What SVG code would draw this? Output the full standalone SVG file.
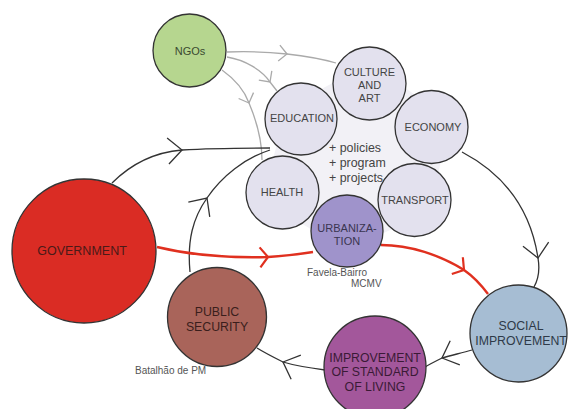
<svg xmlns="http://www.w3.org/2000/svg" width="568" height="409" viewBox="0 0 568 409">
<style>
.node{stroke:#333;stroke-width:1.3}
.lbl{font-family:"Liberation Sans",Arial,sans-serif;font-size:11px;fill:#444;text-anchor:middle}
.big{font-size:12.3px;fill:#3a2a2a}
.note{font-family:"Liberation Sans",Arial,sans-serif;font-size:10px;fill:#555}
.plus{font-family:"Liberation Sans",Arial,sans-serif;font-size:12.4px;fill:#444}
.blk{fill:none;stroke:#333;stroke-width:1.3;marker-mid:url(#chev)}
.gry{fill:none;stroke:#aaa;stroke-width:1.3;marker-mid:url(#chevg)}
.red{fill:none;stroke:#e0301f;stroke-width:2.4;marker-mid:url(#chevr)}
</style>
<defs>
<marker id="chev" viewBox="-20 -20 40 40" markerWidth="40" markerHeight="40" refX="0" refY="0" orient="auto" markerUnits="userSpaceOnUse"><path d="M-14,-13 L0,0 L-14,13" fill="none" stroke="#333" stroke-width="1.3"/></marker>
<marker id="chevg" viewBox="-20 -20 40 40" markerWidth="40" markerHeight="40" refX="0" refY="0" orient="auto" markerUnits="userSpaceOnUse"><path d="M-8,-8 L0,0 L-8,8" fill="none" stroke="#aaa" stroke-width="1.3"/></marker>
<marker id="chevr" viewBox="-20 -20 40 40" markerWidth="40" markerHeight="40" refX="0" refY="0" orient="auto" markerUnits="userSpaceOnUse"><path d="M-8,-10 L0,0 L-8,10" fill="none" stroke="#e0301f" stroke-width="2.2"/></marker>
</defs>
<rect width="568" height="409" fill="#fff"/>
<polygon id="cluster-bg" points="301,119 369,83 431,127 415,200 347,231 282,192" fill="#f2f1f6" stroke="#f2f1f6" stroke-width="34" stroke-linejoin="round"/>
<g id="connectors">
<path class="gry" d="M227,52 C250,51 268,52 287,54 C305,56 322,59 336,63"/>
<path class="gry" d="M227,57 C245,60 262,70 270,82 L277,91"/>
<path class="gry" d="M222,70 C236,80 245,92 249,103 C257,122 262,140 262,160"/>
<path class="blk" d="M112,183 C135,160 158,152 182,150 C215,148 245,148 270,148"/>
<path class="blk" d="M190,272 C187,240 193,218 207,198 C222,176 245,158 270,150"/>
<path class="blk" d="M462,152 C500,172 530,205 538,258 C540,270 538,280 534,287"/>
<path class="red" d="M157,247 C190,255 230,258 268,257 C285,256 300,254 313,252"/>
<path class="red" d="M381,245 C410,245 440,255 464,270 C474,277 482,286 488,294"/>
<path class="blk" d="M472,350 C462,353 452,355 442,358 C436,361 430,364 425,367"/>
<path class="blk" d="M325,370 C310,368 296,366 283,362 C273,357 265,353 257,348"/>
</g>
<g id="ngos"><circle class="node" cx="189.5" cy="50.5" r="36.5" fill="#b6d68f"/><text class="lbl" x="190" y="55" style="fill:#3a4a30">NGOs</text></g>
<g id="education"><circle class="node" cx="301" cy="119" r="36" fill="#e3e1ee"/><text class="lbl" x="302" y="122">EDUCATION</text></g>
<g id="culture"><circle class="node" cx="369.5" cy="83.5" r="36.5" fill="#e3e1ee"/><text class="lbl" x="369.5" y="76">CULTURE</text><text class="lbl" x="369.5" y="89">AND</text><text class="lbl" x="369.5" y="102">ART</text></g>
<g id="economy"><circle class="node" cx="431.5" cy="127" r="36.5" fill="#e3e1ee"/><text class="lbl" x="433" y="131">ECONOMY</text></g>
<g id="health"><circle class="node" cx="282.5" cy="192.5" r="36.5" fill="#e3e1ee"/><text class="lbl" x="282" y="196">HEALTH</text></g>
<g id="transport"><circle class="node" cx="414.5" cy="200" r="36.5" fill="#e3e1ee"/><text class="lbl" x="415" y="204">TRANSPORT</text></g>
<g id="urbanization"><circle class="node" cx="347" cy="231" r="36" fill="#9f93cb"/><text class="lbl" x="347" y="232" style="fill:#3a3550">URBANIZA-</text><text class="lbl" x="347" y="245" style="fill:#3a3550">TION</text></g>
<g id="policies"><text class="plus" x="329" y="152">+ policies</text><text class="plus" x="329" y="167">+ program</text><text class="plus" x="329" y="182">+ projects</text></g>
<g id="government"><circle class="node" cx="84" cy="251" r="72" fill="#da2c24"/><text class="lbl big" x="82" y="255" style="font-size:12.5px;fill:#4a1a18">GOVERNMENT</text></g>
<g id="public-security"><circle class="node" cx="217" cy="317" r="49.5" fill="#a9645a"/><text class="lbl big" x="217" y="315.5" style="fill:#3a1e1c">PUBLIC</text><text class="lbl big" x="217" y="330.5" style="fill:#3a1e1c">SECURITY</text></g>
<g id="social-improvement"><circle class="node" cx="518.5" cy="333.5" r="48.5" fill="#a6bdd3"/><text class="lbl big" x="521" y="330" style="fill:#2e3a48">SOCIAL</text><text class="lbl big" x="521" y="345" style="fill:#2e3a48">IMPROVEMENT</text></g>
<g id="standard-of-living"><circle class="node" cx="375" cy="367" r="51" fill="#a3579b"/><text class="lbl big" x="375" y="362" style="fill:#3a1a36">IMPROVEMENT</text><text class="lbl big" x="375" y="376" style="fill:#3a1a36">OF STANDARD</text><text class="lbl big" x="375" y="391" style="fill:#3a1a36">OF LIVING</text></g>
<g id="notes"><text class="note" x="307" y="276">Favela-Bairro</text><text class="note" x="351" y="287">MCMV</text><text class="note" x="135" y="374">Batalhão de PM</text></g>
</svg>
